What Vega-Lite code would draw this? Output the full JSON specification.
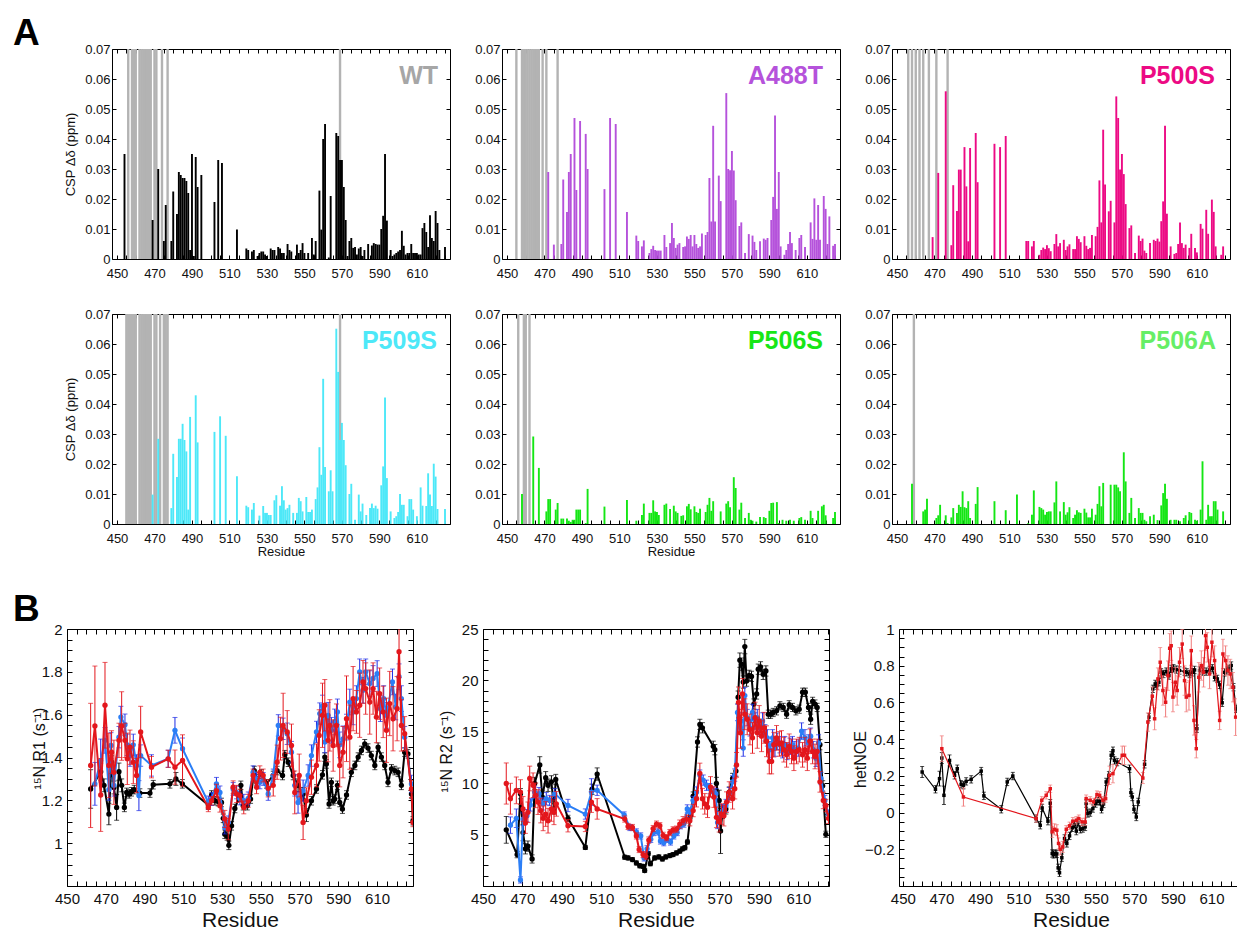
{
"$schema":"https://vega.github.io/schema/vega-lite/v6.json",
"padding":{"left":13,"top":15,"right":0,"bottom":0},
"background":"white",
"datasets":{
"wt":[{"r":454,"v":0.035},{"r":469,"v":0.013},{"r":472,"v":0.03},{"r":475,"v":0.006},{"r":476,"v":0.018},{"r":479,"v":0.006},{"r":480,"v":0.0225},{"r":482,"v":0.015},{"r":483,"v":0.029},{"r":484,"v":0.028},{"r":485,"v":0.027},{"r":486,"v":0.027},{"r":487,"v":0.026},{"r":488,"v":0.022},{"r":489,"v":0.003},{"r":490,"v":0.035},{"r":491,"v":0.001},{"r":492,"v":0.034},{"r":493,"v":0.024},{"r":495,"v":0.028},{"r":502,"v":0.019},{"r":504,"v":0.033},{"r":506,"v":0.032},{"r":514,"v":0.0098},{"r":519,"v":0.0035},{"r":520,"v":0.003},{"r":522,"v":0.0025},{"r":523,"v":0.003},{"r":525,"v":0.001},{"r":526,"v":0.002},{"r":527,"v":0.0025},{"r":528,"v":0.0025},{"r":529,"v":0.0015},{"r":530,"v":0.001},{"r":532,"v":0.0035},{"r":533,"v":0.003},{"r":534,"v":0.003},{"r":536,"v":0.004},{"r":537,"v":0.0035},{"r":538,"v":0.002},{"r":539,"v":0.002},{"r":541,"v":0.005},{"r":542,"v":0.003},{"r":543,"v":0.0025},{"r":546,"v":0.0048},{"r":547,"v":0.002},{"r":548,"v":0.003},{"r":549,"v":0.0053},{"r":550,"v":0.002},{"r":552,"v":0.002},{"r":554,"v":0.007},{"r":555,"v":0.0015},{"r":556,"v":0.006},{"r":558,"v":0.0228},{"r":559,"v":0.0098},{"r":560,"v":0.04},{"r":561,"v":0.045},{"r":563,"v":0.0005},{"r":564,"v":0.021},{"r":567,"v":0.042},{"r":568,"v":0.041},{"r":569,"v":0.033},{"r":570,"v":0.033},{"r":571,"v":0.024},{"r":572,"v":0.013},{"r":573,"v":0.001},{"r":574,"v":0.006},{"r":575,"v":0.007},{"r":576,"v":0.0037},{"r":577,"v":0.004},{"r":578,"v":0.0015},{"r":579,"v":0.0035},{"r":580,"v":0.004},{"r":581,"v":0.001},{"r":582,"v":0.003},{"r":584,"v":0.005},{"r":586,"v":0.0045},{"r":587,"v":0.0053},{"r":588,"v":0.005},{"r":589,"v":0.0048},{"r":590,"v":0.0048},{"r":591,"v":0.01},{"r":592,"v":0.0144},{"r":593,"v":0.035},{"r":594,"v":0.0128},{"r":596,"v":0.003},{"r":597,"v":0.001},{"r":598,"v":0.0015},{"r":599,"v":0.002},{"r":600,"v":0.0025},{"r":601,"v":0.003},{"r":602,"v":0.0094},{"r":603,"v":0.0044},{"r":604,"v":0.0015},{"r":605,"v":0.002},{"r":606,"v":0.002},{"r":607,"v":0.005},{"r":608,"v":0.002},{"r":609,"v":0.002},{"r":610,"v":0.002},{"r":611,"v":0.0015},{"r":612,"v":0.0015},{"r":613,"v":0.0103},{"r":614,"v":0.012},{"r":615,"v":0.009},{"r":616,"v":0.004},{"r":617,"v":0.0146},{"r":618,"v":0.007},{"r":619,"v":0.006},{"r":620,"v":0.016},{"r":621,"v":0.012},{"r":622,"v":0.003},{"r":625,"v":0.004}],
"wtg":[{"r":456,"v":0.07},{"r":458,"v":0.07},{"r":459,"v":0.07},{"r":460,"v":0.07},{"r":462,"v":0.07},{"r":463,"v":0.07},{"r":464,"v":0.07},{"r":465,"v":0.07},{"r":466,"v":0.07},{"r":467,"v":0.07},{"r":468,"v":0.07},{"r":470,"v":0.07},{"r":471,"v":0.07},{"r":474,"v":0.07},{"r":477,"v":0.07},{"r":569,"v":0.07}],
"a488":[{"r":472,"v":0.029},{"r":475,"v":0.0048},{"r":479,"v":0.005},{"r":480,"v":0.0265},{"r":482,"v":0.0157},{"r":483,"v":0.029},{"r":484,"v":0.035},{"r":486,"v":0.047},{"r":487,"v":0.023},{"r":489,"v":0.046},{"r":492,"v":0.0417},{"r":493,"v":0.03},{"r":502,"v":0.0233},{"r":505,"v":0.047},{"r":508,"v":0.045},{"r":514,"v":0.0157},{"r":519,"v":0.0078},{"r":520,"v":0.006},{"r":522,"v":0.0042},{"r":523,"v":0.0062},{"r":526,"v":0.002},{"r":527,"v":0.0033},{"r":528,"v":0.0044},{"r":529,"v":0.003},{"r":530,"v":0.0028},{"r":531,"v":0.0028},{"r":532,"v":0.0028},{"r":534,"v":0.008},{"r":535,"v":0.004},{"r":537,"v":0.0053},{"r":538,"v":0.012},{"r":539,"v":0.007},{"r":540,"v":0.0037},{"r":541,"v":0.0048},{"r":542,"v":0.0053},{"r":544,"v":0.004},{"r":545,"v":0.0042},{"r":546,"v":0.0075},{"r":547,"v":0.0067},{"r":548,"v":0.008},{"r":549,"v":0.0042},{"r":550,"v":0.008},{"r":551,"v":0.005},{"r":552,"v":0.0037},{"r":553,"v":0.0042},{"r":554,"v":0.0085},{"r":556,"v":0.008},{"r":557,"v":0.009},{"r":558,"v":0.027},{"r":559,"v":0.0125},{"r":560,"v":0.0444},{"r":561,"v":0.0125},{"r":563,"v":0.0278},{"r":564,"v":0.0193},{"r":567,"v":0.0553},{"r":568,"v":0.03},{"r":569,"v":0.0296},{"r":570,"v":0.036},{"r":571,"v":0.0295},{"r":572,"v":0.0196},{"r":574,"v":0.011},{"r":575,"v":0.0122},{"r":577,"v":0.002},{"r":579,"v":0.0083},{"r":581,"v":0.0078},{"r":582,"v":0.0057},{"r":583,"v":0.003},{"r":585,"v":0.0059},{"r":587,"v":0.0068},{"r":588,"v":0.0064},{"r":589,"v":0.007},{"r":591,"v":0.013},{"r":592,"v":0.0207},{"r":593,"v":0.0478},{"r":594,"v":0.0167},{"r":595,"v":0.029},{"r":596,"v":0.0042},{"r":598,"v":0.0014},{"r":599,"v":0.003},{"r":600,"v":0.005},{"r":601,"v":0.009},{"r":602,"v":0.0053},{"r":604,"v":0.003},{"r":606,"v":0.007},{"r":607,"v":0.008},{"r":609,"v":0.004},{"r":612,"v":0.0122},{"r":613,"v":0.0067},{"r":614,"v":0.0202},{"r":615,"v":0.0064},{"r":616,"v":0.018},{"r":617,"v":0.0064},{"r":619,"v":0.021},{"r":620,"v":0.0167},{"r":621,"v":0.005},{"r":622,"v":0.0142},{"r":624,"v":0.0044},{"r":625,"v":0.005}],
"a488g":[{"r":455,"v":0.07},{"r":458,"v":0.07},{"r":459,"v":0.07},{"r":460,"v":0.07},{"r":461,"v":0.07},{"r":462,"v":0.07},{"r":463,"v":0.07},{"r":464,"v":0.07},{"r":465,"v":0.07},{"r":466,"v":0.07},{"r":467,"v":0.07},{"r":469,"v":0.07},{"r":471,"v":0.07},{"r":477,"v":0.07}],
"p500":[{"r":469,"v":0.0073},{"r":472,"v":0.0287},{"r":476,"v":0.0559},{"r":479,"v":0.0046},{"r":480,"v":0.0246},{"r":482,"v":0.016},{"r":483,"v":0.0298},{"r":484,"v":0.0298},{"r":486,"v":0.0373},{"r":487,"v":0.0242},{"r":488,"v":0.0059},{"r":489,"v":0.037},{"r":492,"v":0.042},{"r":493,"v":0.0256},{"r":502,"v":0.0384},{"r":505,"v":0.0373},{"r":508,"v":0.041},{"r":519,"v":0.006},{"r":520,"v":0.006},{"r":522,"v":0.0042},{"r":523,"v":0.006},{"r":526,"v":0.0014},{"r":527,"v":0.003},{"r":528,"v":0.0038},{"r":529,"v":0.0033},{"r":530,"v":0.0046},{"r":531,"v":0.0036},{"r":532,"v":0.0026},{"r":534,"v":0.005},{"r":535,"v":0.0083},{"r":536,"v":0.0042},{"r":537,"v":0.0053},{"r":539,"v":0.0064},{"r":540,"v":0.003},{"r":541,"v":0.0042},{"r":542,"v":0.0049},{"r":544,"v":0.0033},{"r":545,"v":0.0033},{"r":546,"v":0.0076},{"r":547,"v":0.0067},{"r":548,"v":0.0056},{"r":550,"v":0.0076},{"r":551,"v":0.0044},{"r":552,"v":0.0033},{"r":553,"v":0.0037},{"r":554,"v":0.008},{"r":556,"v":0.0076},{"r":557,"v":0.0107},{"r":558,"v":0.0262},{"r":559,"v":0.0122},{"r":560,"v":0.0431},{"r":561,"v":0.0248},{"r":563,"v":0.0159},{"r":564,"v":0.0194},{"r":566,"v":0.0122},{"r":567,"v":0.0542},{"r":568,"v":0.047},{"r":569,"v":0.0298},{"r":570,"v":0.035},{"r":571,"v":0.0283},{"r":572,"v":0.0183},{"r":574,"v":0.0103},{"r":575,"v":0.0112},{"r":577,"v":0.002},{"r":579,"v":0.0078},{"r":580,"v":0.006},{"r":581,"v":0.0068},{"r":582,"v":0.0028},{"r":583,"v":0.002},{"r":585,"v":0.0053},{"r":587,"v":0.0064},{"r":588,"v":0.006},{"r":589,"v":0.0068},{"r":590,"v":0.0058},{"r":591,"v":0.0126},{"r":592,"v":0.0192},{"r":593,"v":0.0444},{"r":594,"v":0.0151},{"r":596,"v":0.0042},{"r":598,"v":0.0017},{"r":599,"v":0.002},{"r":600,"v":0.005},{"r":601,"v":0.0122},{"r":602,"v":0.0053},{"r":603,"v":0.0037},{"r":604,"v":0.0048},{"r":606,"v":0.0037},{"r":607,"v":0.0084},{"r":609,"v":0.0037},{"r":610,"v":0.0022},{"r":612,"v":0.0117},{"r":613,"v":0.0101},{"r":615,"v":0.0164},{"r":616,"v":0.0084},{"r":618,"v":0.0198},{"r":619,"v":0.0157},{"r":620,"v":0.0042},{"r":623,"v":0.0014},{"r":624,"v":0.0042}],
"p500g":[{"r":456,"v":0.07},{"r":458,"v":0.07},{"r":460,"v":0.07},{"r":462,"v":0.07},{"r":464,"v":0.07},{"r":467,"v":0.07},{"r":471,"v":0.07},{"r":477,"v":0.07}],
"p509":[{"r":469,"v":0.0098},{"r":472,"v":0.0284},{"r":479,"v":0.0053},{"r":480,"v":0.0234},{"r":482,"v":0.0157},{"r":483,"v":0.0284},{"r":484,"v":0.0284},{"r":485,"v":0.0334},{"r":486,"v":0.028},{"r":487,"v":0.0242},{"r":488,"v":0.0048},{"r":489,"v":0.0357},{"r":492,"v":0.0429},{"r":493,"v":0.0272},{"r":502,"v":0.0307},{"r":505,"v":0.0359},{"r":508,"v":0.0294},{"r":514,"v":0.0159},{"r":519,"v":0.0061},{"r":520,"v":0.0056},{"r":522,"v":0.0048},{"r":523,"v":0.007},{"r":526,"v":0.0028},{"r":528,"v":0.006},{"r":529,"v":0.0037},{"r":530,"v":0.0037},{"r":531,"v":0.003},{"r":532,"v":0.003},{"r":534,"v":0.0079},{"r":535,"v":0.0096},{"r":537,"v":0.0061},{"r":538,"v":0.0126},{"r":539,"v":0.0079},{"r":540,"v":0.0048},{"r":541,"v":0.0053},{"r":542,"v":0.0064},{"r":544,"v":0.0037},{"r":546,"v":0.0037},{"r":547,"v":0.0087},{"r":548,"v":0.0076},{"r":549,"v":0.0042},{"r":551,"v":0.009},{"r":552,"v":0.004},{"r":553,"v":0.004},{"r":554,"v":0.0048},{"r":556,"v":0.0083},{"r":557,"v":0.0122},{"r":558,"v":0.0256},{"r":559,"v":0.0164},{"r":560,"v":0.0484},{"r":561,"v":0.019},{"r":563,"v":0.0109},{"r":564,"v":0.0179},{"r":565,"v":0.0109},{"r":567,"v":0.0651},{"r":568,"v":0.0507},{"r":569,"v":0.028},{"r":570,"v":0.0337},{"r":571,"v":0.028},{"r":572,"v":0.0196},{"r":574,"v":0.01},{"r":575,"v":0.0134},{"r":577,"v":0.0014},{"r":579,"v":0.0098},{"r":580,"v":0.0042},{"r":581,"v":0.0068},{"r":583,"v":0.003},{"r":585,"v":0.0053},{"r":586,"v":0.0068},{"r":587,"v":0.0053},{"r":588,"v":0.0061},{"r":589,"v":0.0051},{"r":591,"v":0.0129},{"r":592,"v":0.0192},{"r":593,"v":0.0422},{"r":594,"v":0.0153},{"r":596,"v":0.0042},{"r":598,"v":0.002},{"r":599,"v":0.0026},{"r":600,"v":0.004},{"r":601,"v":0.01},{"r":602,"v":0.0064},{"r":603,"v":0.0064},{"r":605,"v":0.0026},{"r":606,"v":0.0083},{"r":607,"v":0.0083},{"r":608,"v":0.0048},{"r":610,"v":0.0026},{"r":612,"v":0.0122},{"r":613,"v":0.0061},{"r":615,"v":0.006},{"r":616,"v":0.0169},{"r":617,"v":0.0098},{"r":618,"v":0.006},{"r":619,"v":0.0201},{"r":620,"v":0.0158},{"r":621,"v":0.005},{"r":625,"v":0.005}],
"p509g":[{"r":455,"v":0.07},{"r":456,"v":0.07},{"r":457,"v":0.07},{"r":458,"v":0.07},{"r":459,"v":0.07},{"r":460,"v":0.07},{"r":462,"v":0.07},{"r":463,"v":0.07},{"r":464,"v":0.07},{"r":465,"v":0.07},{"r":466,"v":0.07},{"r":467,"v":0.07},{"r":468,"v":0.07},{"r":470,"v":0.07},{"r":471,"v":0.07},{"r":473,"v":0.07},{"r":475,"v":0.07},{"r":476,"v":0.07},{"r":477,"v":0.07},{"r":569,"v":0.07}],
"p506s":[{"r":458,"v":0.01},{"r":464,"v":0.0292},{"r":467,"v":0.0187},{"r":471,"v":0.0042},{"r":472,"v":0.0083},{"r":473,"v":0.0083},{"r":476,"v":0.0048},{"r":477,"v":0.007},{"r":479,"v":0.0018},{"r":480,"v":0.0018},{"r":482,"v":0.0018},{"r":483,"v":0.0011},{"r":484,"v":0.0007},{"r":485,"v":0.0014},{"r":486,"v":0.0014},{"r":487,"v":0.0048},{"r":488,"v":0.0048},{"r":489,"v":0.0048},{"r":492,"v":0.0003},{"r":493,"v":0.0117},{"r":502,"v":0.0058},{"r":514,"v":0.008},{"r":519,"v":0.0011},{"r":522,"v":0.003},{"r":523,"v":0.0068},{"r":526,"v":0.0037},{"r":527,"v":0.0037},{"r":528,"v":0.0079},{"r":529,"v":0.0042},{"r":530,"v":0.004},{"r":531,"v":0.003},{"r":534,"v":0.0064},{"r":535,"v":0.0068},{"r":537,"v":0.005},{"r":539,"v":0.0061},{"r":540,"v":0.0042},{"r":541,"v":0.0037},{"r":543,"v":0.0027},{"r":544,"v":0.0029},{"r":546,"v":0.0059},{"r":547,"v":0.0067},{"r":548,"v":0.0049},{"r":550,"v":0.0059},{"r":551,"v":0.004},{"r":552,"v":0.0037},{"r":553,"v":0.0051},{"r":556,"v":0.004},{"r":557,"v":0.0064},{"r":558,"v":0.0087},{"r":559,"v":0.0044},{"r":560,"v":0.0076},{"r":564,"v":0.0042},{"r":567,"v":0.0068},{"r":568,"v":0.0076},{"r":569,"v":0.0056},{"r":571,"v":0.0156},{"r":572,"v":0.012},{"r":574,"v":0.0048},{"r":575,"v":0.0071},{"r":577,"v":0.002},{"r":579,"v":0.0037},{"r":580,"v":0.0014},{"r":581,"v":0.0011},{"r":583,"v":0.0008},{"r":585,"v":0.0023},{"r":587,"v":0.0023},{"r":588,"v":0.002},{"r":590,"v":0.0044},{"r":591,"v":0.007},{"r":592,"v":0.0071},{"r":594,"v":0.0073},{"r":595,"v":0.0003},{"r":597,"v":0.0014},{"r":599,"v":0.0011},{"r":601,"v":0.0014},{"r":603,"v":0.0011},{"r":606,"v":0.002},{"r":607,"v":0.0023},{"r":609,"v":0.0014},{"r":612,"v":0.0044},{"r":613,"v":0.002},{"r":616,"v":0.0044},{"r":618,"v":0.0059},{"r":619,"v":0.0064},{"r":620,"v":0.0029},{"r":624,"v":0.002},{"r":625,"v":0.004}],
"p506sg":[{"r":456,"v":0.07},{"r":459,"v":0.07},{"r":460,"v":0.07},{"r":462,"v":0.07}],
"p506a":[{"r":458,"v":0.0134},{"r":464,"v":0.0042},{"r":465,"v":0.0048},{"r":466,"v":0.0084},{"r":471,"v":0.002},{"r":472,"v":0.0029},{"r":473,"v":0.0064},{"r":476,"v":0.0029},{"r":477,"v":0.0003},{"r":479,"v":0.0022},{"r":480,"v":0.0053},{"r":482,"v":0.0037},{"r":483,"v":0.0064},{"r":484,"v":0.0057},{"r":485,"v":0.0109},{"r":486,"v":0.0056},{"r":487,"v":0.0053},{"r":488,"v":0.0076},{"r":489,"v":0.002},{"r":492,"v":0.0067},{"r":493,"v":0.0123},{"r":502,"v":0.0076},{"r":508,"v":0.0046},{"r":514,"v":0.0098},{"r":520,"v":0.0003},{"r":522,"v":0.0031},{"r":523,"v":0.0112},{"r":526,"v":0.0057},{"r":527,"v":0.0053},{"r":528,"v":0.0048},{"r":529,"v":0.0031},{"r":530,"v":0.004},{"r":531,"v":0.0042},{"r":532,"v":0.0042},{"r":534,"v":0.0072},{"r":535,"v":0.0142},{"r":537,"v":0.0042},{"r":539,"v":0.0073},{"r":540,"v":0.0031},{"r":541,"v":0.0039},{"r":542,"v":0.0056},{"r":544,"v":0.002},{"r":545,"v":0.0031},{"r":546,"v":0.0046},{"r":547,"v":0.0039},{"r":548,"v":0.0037},{"r":550,"v":0.0051},{"r":551,"v":0.0038},{"r":552,"v":0.0022},{"r":553,"v":0.0022},{"r":554,"v":0.0051},{"r":556,"v":0.0031},{"r":557,"v":0.0067},{"r":558,"v":0.0126},{"r":559,"v":0.0059},{"r":560,"v":0.0137},{"r":564,"v":0.0131},{"r":566,"v":0.0131},{"r":567,"v":0.0131},{"r":568,"v":0.0122},{"r":569,"v":0.0109},{"r":571,"v":0.0239},{"r":572,"v":0.0142},{"r":574,"v":0.0037},{"r":575,"v":0.0087},{"r":577,"v":0.002},{"r":579,"v":0.0053},{"r":580,"v":0.0037},{"r":581,"v":0.0037},{"r":582,"v":0.0014},{"r":583,"v":0.0009},{"r":585,"v":0.0026},{"r":587,"v":0.0031},{"r":589,"v":0.0013},{"r":591,"v":0.0062},{"r":592,"v":0.0103},{"r":593,"v":0.0134},{"r":594,"v":0.0084},{"r":596,"v":0.0014},{"r":598,"v":0.0014},{"r":599,"v":0.0014},{"r":601,"v":0.0009},{"r":603,"v":0.002},{"r":604,"v":0.0029},{"r":606,"v":0.004},{"r":607,"v":0.0037},{"r":609,"v":0.0014},{"r":610,"v":0.0011},{"r":612,"v":0.0048},{"r":613,"v":0.0209},{"r":615,"v":0.0014},{"r":616,"v":0.0064},{"r":617,"v":0.0026},{"r":618,"v":0.0026},{"r":619,"v":0.0076},{"r":620,"v":0.0076},{"r":621,"v":0.0048},{"r":624,"v":0.0042}],
"p506ag":[{"r":459,"v":0.07}],
"r1k":[{"r":462.2,"v":1.253,"e":0.09},{"r":467.4,"v":1.334,"e":0.04},{"r":469.1,"v":1.27,"e":0.03},{"r":471.6,"v":1.136,"e":0.05},{"r":473,"v":1.378,"e":0.03},{"r":474.2,"v":1.26,"e":0.03},{"r":475.6,"v":1.167,"e":0.06},{"r":476.8,"v":1.334,"e":0.04},{"r":478.2,"v":1.27,"e":0.03},{"r":479.6,"v":1.167,"e":0.02},{"r":480.8,"v":1.237,"e":0.02},{"r":482.1,"v":1.23,"e":0.02},{"r":483.3,"v":1.24,"e":0.02},{"r":484.7,"v":1.25,"e":0.02},{"r":487.6,"v":1.234,"e":0.02},{"r":492.8,"v":1.234,"e":0.02},{"r":494.5,"v":1.273,"e":0.02},{"r":503.1,"v":1.277,"e":0.02},{"r":506.2,"v":1.3,"e":0.03},{"r":509.5,"v":1.277,"e":0.02},{"r":522.9,"v":1.178,"e":0.02},{"r":524.6,"v":1.225,"e":0.02},{"r":526.3,"v":1.198,"e":0.02},{"r":528,"v":1.194,"e":0.02},{"r":529.7,"v":1.19,"e":0.02},{"r":530.6,"v":1.116,"e":0.02},{"r":531.4,"v":1.042,"e":0.02},{"r":532.6,"v":1.034,"e":0.02},{"r":533.5,"v":0.99,"e":0.02},{"r":534.9,"v":1.081,"e":0.02},{"r":536.6,"v":1.162,"e":0.02},{"r":538.8,"v":1.214,"e":0.02},{"r":539.7,"v":1.27,"e":0.02},{"r":540.9,"v":1.175,"e":0.02},{"r":543,"v":1.175,"e":0.02},{"r":544.7,"v":1.206,"e":0.02},{"r":546.6,"v":1.339,"e":0.02},{"r":547.8,"v":1.3,"e":0.02},{"r":550.3,"v":1.323,"e":0.02},{"r":552.9,"v":1.277,"e":0.02},{"r":556.4,"v":1.316,"e":0.02},{"r":558.4,"v":1.339,"e":0.02},{"r":561.2,"v":1.316,"e":0.02},{"r":562.4,"v":1.413,"e":0.02},{"r":564.1,"v":1.378,"e":0.02},{"r":566.7,"v":1.316,"e":0.02},{"r":569.2,"v":1.27,"e":0.03},{"r":571.8,"v":1.23,"e":0.03},{"r":573.5,"v":1.131,"e":0.03},{"r":576.1,"v":1.198,"e":0.02},{"r":578.7,"v":1.253,"e":0.02},{"r":581.8,"v":1.319,"e":0.02},{"r":583,"v":1.402,"e":0.02},{"r":583.8,"v":1.37,"e":0.02},{"r":585.2,"v":1.183,"e":0.02},{"r":586.4,"v":1.284,"e":0.02},{"r":587.3,"v":1.198,"e":0.02},{"r":588.1,"v":1.206,"e":0.02},{"r":589.5,"v":1.27,"e":0.02},{"r":590.7,"v":1.19,"e":0.02},{"r":592.1,"v":1.159,"e":0.02},{"r":594.2,"v":1.225,"e":0.02},{"r":596.7,"v":1.331,"e":0.02},{"r":598.5,"v":1.363,"e":0.02},{"r":600.2,"v":1.402,"e":0.02},{"r":601.9,"v":1.433,"e":0.02},{"r":603.6,"v":1.464,"e":0.02},{"r":605.3,"v":1.444,"e":0.02},{"r":607,"v":1.409,"e":0.02},{"r":608.8,"v":1.363,"e":0.02},{"r":610.5,"v":1.448,"e":0.02},{"r":612.2,"v":1.402,"e":0.02},{"r":613.9,"v":1.363,"e":0.02},{"r":615.6,"v":1.284,"e":0.02},{"r":617.4,"v":1.347,"e":0.02},{"r":619.1,"v":1.339,"e":0.02},{"r":620.8,"v":1.331,"e":0.02},{"r":622.5,"v":1.27,"e":0.02},{"r":624.2,"v":1.425,"e":0.02},{"r":625.9,"v":1.417,"e":0.02},{"r":627.7,"v":1.23,"e":0.02},{"r":628.5,"v":1.105,"e":0.02}],
"r1b":[{"r":464.4,"v":1.277,"e":0.1},{"r":467.4,"v":1.386,"e":0.1},{"r":469.6,"v":1.48,"e":0.06},{"r":471.6,"v":1.25,"e":0.05},{"r":472.7,"v":1.456,"e":0.06},{"r":474.2,"v":1.27,"e":0.05},{"r":476.8,"v":1.495,"e":0.05},{"r":477.8,"v":1.589,"e":0.05},{"r":479.9,"v":1.553,"e":0.05},{"r":481.1,"v":1.459,"e":0.05},{"r":482.5,"v":1.409,"e":0.05},{"r":484.2,"v":1.459,"e":0.05},{"r":485.9,"v":1.363,"e":0.05},{"r":487.1,"v":1.222,"e":0.07},{"r":488,"v":1.409,"e":0.05},{"r":493.6,"v":1.363,"e":0.05},{"r":502.2,"v":1.394,"e":0.04},{"r":505.7,"v":1.527,"e":0.06},{"r":509.6,"v":1.441,"e":0.05},{"r":522.9,"v":1.19,"e":0.03},{"r":524.6,"v":1.206,"e":0.03},{"r":527.1,"v":1.277,"e":0.03},{"r":528.9,"v":1.237,"e":0.03},{"r":531.4,"v":1.073,"e":0.03},{"r":533.2,"v":1.097,"e":0.03},{"r":535.7,"v":1.253,"e":0.03},{"r":537.5,"v":1.237,"e":0.03},{"r":539.2,"v":1.209,"e":0.03},{"r":541.2,"v":1.198,"e":0.03},{"r":543.5,"v":1.209,"e":0.03},{"r":546,"v":1.331,"e":0.03},{"r":547.8,"v":1.3,"e":0.03},{"r":549.5,"v":1.284,"e":0.03},{"r":551.2,"v":1.3,"e":0.03},{"r":553.8,"v":1.23,"e":0.03},{"r":556.4,"v":1.316,"e":0.03},{"r":559,"v":1.55,"e":0.05},{"r":561.5,"v":1.534,"e":0.05},{"r":563.6,"v":1.511,"e":0.05},{"r":565.8,"v":1.425,"e":0.05},{"r":567.5,"v":1.27,"e":0.05},{"r":569.2,"v":1.19,"e":0.05},{"r":571.8,"v":1.245,"e":0.05},{"r":574.4,"v":1.316,"e":0.05},{"r":576.1,"v":1.409,"e":0.05},{"r":578.7,"v":1.519,"e":0.05},{"r":580.4,"v":1.605,"e":0.05},{"r":581.8,"v":1.641,"e":0.05},{"r":583,"v":1.472,"e":0.05},{"r":584.7,"v":1.597,"e":0.06},{"r":586.4,"v":1.527,"e":0.06},{"r":588.1,"v":1.566,"e":0.06},{"r":589.5,"v":1.613,"e":0.06},{"r":590.7,"v":1.459,"e":0.06},{"r":592.4,"v":1.487,"e":0.06},{"r":594.2,"v":1.542,"e":0.06},{"r":595.9,"v":1.659,"e":0.06},{"r":597.6,"v":1.613,"e":0.06},{"r":599.3,"v":1.675,"e":0.06},{"r":601,"v":1.8,"e":0.06},{"r":602.7,"v":1.714,"e":0.06},{"r":604.1,"v":1.8,"e":0.06},{"r":606.2,"v":1.745,"e":0.06},{"r":607.9,"v":1.769,"e":0.06},{"r":610,"v":1.792,"e":0.06},{"r":611.7,"v":1.628,"e":0.06},{"r":613.4,"v":1.675,"e":0.06},{"r":614.8,"v":1.597,"e":0.06},{"r":617.9,"v":1.753,"e":0.06},{"r":619.6,"v":1.636,"e":0.06},{"r":621.3,"v":1.777,"e":0.06},{"r":622.5,"v":1.675,"e":0.06},{"r":624.2,"v":1.495,"e":0.05},{"r":627.7,"v":1.277,"e":0.04}],
"r1r":[{"r":462.2,"v":1.363,"e":0.29},{"r":464.4,"v":1.547,"e":0.28},{"r":467.4,"v":1.225,"e":0.17},{"r":469.6,"v":1.644,"e":0.2},{"r":471.6,"v":1.363,"e":0.15},{"r":473,"v":1.425,"e":0.1},{"r":474.2,"v":1.331,"e":0.15},{"r":476.8,"v":1.48,"e":0.08},{"r":478.2,"v":1.547,"e":0.16},{"r":479.9,"v":1.48,"e":0.08},{"r":481.1,"v":1.394,"e":0.12},{"r":482.5,"v":1.448,"e":0.08},{"r":484.2,"v":1.378,"e":0.1},{"r":485.9,"v":1.316,"e":0.08},{"r":488,"v":1.519,"e":0.12},{"r":493.6,"v":1.355,"e":0.05},{"r":502.2,"v":1.394,"e":0.04},{"r":505.7,"v":1.355,"e":0.08},{"r":509.6,"v":1.386,"e":0.12},{"r":522.9,"v":1.167,"e":0.02},{"r":524.6,"v":1.198,"e":0.02},{"r":527.1,"v":1.245,"e":0.03},{"r":528.9,"v":1.175,"e":0.03},{"r":531.4,"v":1.113,"e":0.04},{"r":533.2,"v":1.066,"e":0.05},{"r":535.7,"v":1.261,"e":0.03},{"r":537.5,"v":1.23,"e":0.04},{"r":539.2,"v":1.222,"e":0.03},{"r":541.2,"v":1.167,"e":0.03},{"r":543.5,"v":1.198,"e":0.03},{"r":546,"v":1.316,"e":0.03},{"r":547.8,"v":1.261,"e":0.03},{"r":549.5,"v":1.331,"e":0.03},{"r":551.2,"v":1.316,"e":0.03},{"r":553.8,"v":1.256,"e":0.04},{"r":556.4,"v":1.27,"e":0.05},{"r":558.4,"v":1.378,"e":0.08},{"r":560.1,"v":1.488,"e":0.1},{"r":561.5,"v":1.55,"e":0.15},{"r":563.6,"v":1.519,"e":0.1},{"r":565.8,"v":1.456,"e":0.1},{"r":567.5,"v":1.237,"e":0.1},{"r":569.8,"v":1.316,"e":0.1},{"r":571.8,"v":1.097,"e":0.08},{"r":573.5,"v":1.198,"e":0.06},{"r":576.1,"v":1.308,"e":0.08},{"r":578.7,"v":1.363,"e":0.1},{"r":580.1,"v":1.503,"e":0.12},{"r":581.8,"v":1.597,"e":0.15},{"r":583,"v":1.644,"e":0.12},{"r":584.7,"v":1.48,"e":0.1},{"r":585.6,"v":1.55,"e":0.12},{"r":587.3,"v":1.456,"e":0.12},{"r":589,"v":1.55,"e":0.1},{"r":590.7,"v":1.363,"e":0.1},{"r":592.4,"v":1.425,"e":0.12},{"r":594.2,"v":1.581,"e":0.2},{"r":595.9,"v":1.495,"e":0.15},{"r":597.6,"v":1.675,"e":0.15},{"r":599.3,"v":1.613,"e":0.1},{"r":601,"v":1.644,"e":0.15},{"r":602.7,"v":1.753,"e":0.1},{"r":604.1,"v":1.722,"e":0.12},{"r":606.2,"v":1.659,"e":0.15},{"r":607.9,"v":1.722,"e":0.12},{"r":609.6,"v":1.589,"e":0.12},{"r":611.3,"v":1.698,"e":0.12},{"r":613.1,"v":1.613,"e":0.12},{"r":614.8,"v":1.527,"e":0.15},{"r":616.5,"v":1.652,"e":0.15},{"r":618.2,"v":1.581,"e":0.15},{"r":620.3,"v":1.628,"e":0.15},{"r":621.3,"v":1.894,"e":0.12},{"r":622.5,"v":1.55,"e":0.12},{"r":624.2,"v":1.511,"e":0.08},{"r":627.7,"v":1.253,"e":0.04},{"r":628.5,"v":1.097,"e":0.02}],
"r2k":[{"r":461.8,"v":5.46,"e":1.3},{"r":467.3,"v":3.06,"e":0.3},{"r":469,"v":8.98,"e":0.5},{"r":470.3,"v":5.2,"e":0.8},{"r":471.5,"v":3.62,"e":0.5},{"r":472.8,"v":3.88,"e":0.5},{"r":474.9,"v":2.63,"e":0.4},{"r":476.2,"v":9.97,"e":0.6},{"r":478.8,"v":11.78,"e":0.8},{"r":480.1,"v":8.65,"e":0.6},{"r":481.8,"v":10.53,"e":0.6},{"r":483,"v":9.8,"e":0.6},{"r":484.7,"v":10.13,"e":0.6},{"r":486,"v":7.5,"e":0.5},{"r":486.9,"v":10.36,"e":0.5},{"r":493.1,"v":6.58,"e":0.3},{"r":501.9,"v":3.75,"e":0.2},{"r":505.3,"v":9.41,"e":0.5},{"r":507.9,"v":10.89,"e":0.6},{"r":521.9,"v":2.8,"e":0.2},{"r":523.6,"v":2.73,"e":0.2},{"r":525.8,"v":2.57,"e":0.2},{"r":527.8,"v":2.24,"e":0.2},{"r":529.5,"v":1.97,"e":0.2},{"r":531.2,"v":1.9,"e":0.2},{"r":532,"v":1.51,"e":0.2},{"r":533.8,"v":3.16,"e":0.2},{"r":534.9,"v":2.17,"e":0.2},{"r":537.1,"v":2.73,"e":0.2},{"r":539.2,"v":2.83,"e":0.2},{"r":541,"v":2.63,"e":0.2},{"r":542.7,"v":2.83,"e":0.2},{"r":544.8,"v":2.96,"e":0.2},{"r":546.4,"v":3.06,"e":0.2},{"r":548.1,"v":3.22,"e":0.2},{"r":549.8,"v":3.39,"e":0.2},{"r":551.2,"v":3.62,"e":0.2},{"r":552.4,"v":3.72,"e":0.2},{"r":553.7,"v":4.28,"e":0.2},{"r":555.2,"v":6.84,"e":0.3},{"r":556.6,"v":8.75,"e":0.4},{"r":558.8,"v":14.01,"e":0.5},{"r":560,"v":15.72,"e":0.5},{"r":561.3,"v":15.39,"e":0.5},{"r":566.8,"v":13.59,"e":0.5},{"r":567.6,"v":13.26,"e":0.5},{"r":568.4,"v":9.97,"e":0.6},{"r":569.8,"v":8.32,"e":1.0},{"r":570.5,"v":5.36,"e":2.2},{"r":571.5,"v":7.17,"e":0.6},{"r":573.2,"v":7.5,"e":0.5},{"r":574.9,"v":9.14,"e":0.5},{"r":576.6,"v":10.46,"e":0.5},{"r":578.3,"v":11.18,"e":0.5},{"r":579.4,"v":18.36,"e":0.6},{"r":580.3,"v":21.97,"e":0.7},{"r":581.1,"v":21.58,"e":0.6},{"r":582,"v":19.84,"e":0.6},{"r":582.8,"v":23.29,"e":0.7},{"r":583.7,"v":19.93,"e":0.5},{"r":585,"v":20.49,"e":0.5},{"r":586.2,"v":20.39,"e":0.5},{"r":587.4,"v":17.7,"e":0.5},{"r":588.8,"v":18.68,"e":0.5},{"r":589.6,"v":21.09,"e":0.5},{"r":590.8,"v":21.32,"e":0.5},{"r":592.1,"v":20.59,"e":0.5},{"r":593.5,"v":20.92,"e":0.5},{"r":594.7,"v":16.71,"e":0.4},{"r":595.9,"v":16.71,"e":0.4},{"r":597.2,"v":16.88,"e":0.4},{"r":598.9,"v":17.04,"e":0.4},{"r":600.6,"v":17.53,"e":0.4},{"r":602.3,"v":17.37,"e":0.4},{"r":604,"v":16.71,"e":0.4},{"r":605.3,"v":17.63,"e":0.4},{"r":607,"v":17.37,"e":0.4},{"r":608.7,"v":17.04,"e":0.4},{"r":610.4,"v":17.2,"e":0.4},{"r":612.1,"v":18.85,"e":0.4},{"r":613.5,"v":18.85,"e":0.4},{"r":615.1,"v":17.37,"e":0.4},{"r":616.2,"v":16.22,"e":0.5},{"r":617.2,"v":17.96,"e":0.4},{"r":618.4,"v":17.7,"e":0.4},{"r":619.5,"v":17.37,"e":0.4},{"r":620.9,"v":13.75,"e":0.5},{"r":622.3,"v":9.74,"e":0.5},{"r":623.9,"v":5.03,"e":0.3}],
"r2b":[{"r":463.9,"v":5.92,"e":0.8},{"r":466.9,"v":6.58,"e":0.9},{"r":469,"v":0.59,"e":0.3},{"r":470.3,"v":6.51,"e":0.6},{"r":472.3,"v":6.84,"e":0.6},{"r":474,"v":7.89,"e":0.6},{"r":476.2,"v":9.14,"e":0.6},{"r":478.4,"v":8.98,"e":0.6},{"r":480.5,"v":7.99,"e":0.6},{"r":482.1,"v":8.49,"e":0.6},{"r":483.8,"v":8.32,"e":0.5},{"r":486.4,"v":8.98,"e":0.5},{"r":493.1,"v":7.83,"e":0.6},{"r":501.9,"v":7.0,"e":0.5},{"r":505,"v":9.14,"e":1.3},{"r":507.9,"v":9.31,"e":0.5},{"r":521.6,"v":6.91,"e":0.3},{"r":524.5,"v":5.69,"e":0.3},{"r":527.8,"v":5.26,"e":0.3},{"r":530,"v":4.87,"e":0.3},{"r":531.7,"v":2.73,"e":0.3},{"r":533.2,"v":3.62,"e":0.3},{"r":535.1,"v":4.54,"e":0.3},{"r":536.6,"v":5.2,"e":0.3},{"r":538.8,"v":5.26,"e":0.3},{"r":540,"v":4.38,"e":0.3},{"r":541.7,"v":4.21,"e":0.3},{"r":543.4,"v":4.54,"e":0.3},{"r":545.1,"v":4.28,"e":0.3},{"r":546.8,"v":4.87,"e":0.3},{"r":548.5,"v":5.2,"e":0.3},{"r":550.2,"v":5.86,"e":0.3},{"r":551.9,"v":6.02,"e":0.3},{"r":553.6,"v":7.5,"e":0.4},{"r":554.9,"v":7.17,"e":0.4},{"r":556.6,"v":8.32,"e":0.4},{"r":558.3,"v":9.14,"e":0.5},{"r":560,"v":10.79,"e":0.5},{"r":561.7,"v":10.3,"e":0.5},{"r":563.4,"v":9.8,"e":0.5},{"r":565.1,"v":9.47,"e":0.5},{"r":566.8,"v":9.14,"e":0.5},{"r":568.1,"v":8.98,"e":0.5},{"r":569,"v":6.18,"e":0.6},{"r":570.1,"v":6.68,"e":0.6},{"r":571.5,"v":7.34,"e":0.6},{"r":573.2,"v":7.83,"e":0.6},{"r":574.9,"v":8.98,"e":0.6},{"r":576.6,"v":10.13,"e":0.6},{"r":577.7,"v":10.79,"e":0.6},{"r":579.1,"v":16.88,"e":0.8},{"r":579.9,"v":15.56,"e":0.8},{"r":581.1,"v":16.05,"e":0.8},{"r":582,"v":13.42,"e":0.8},{"r":582.8,"v":18.52,"e":0.8},{"r":584,"v":16.38,"e":0.8},{"r":585.4,"v":15.39,"e":0.8},{"r":586.7,"v":16.88,"e":0.8},{"r":588,"v":16.05,"e":0.8},{"r":589.1,"v":16.38,"e":0.8},{"r":590.4,"v":15.39,"e":0.8},{"r":591.8,"v":16.05,"e":0.8},{"r":593,"v":14.9,"e":0.8},{"r":594.2,"v":14.41,"e":0.8},{"r":595.5,"v":13.26,"e":0.8},{"r":596.9,"v":14.41,"e":0.8},{"r":598.1,"v":13.42,"e":0.8},{"r":599.2,"v":14.08,"e":0.8},{"r":600.6,"v":13.75,"e":0.8},{"r":601.9,"v":13.26,"e":0.8},{"r":603.1,"v":13.75,"e":0.8},{"r":604.3,"v":13.09,"e":0.8},{"r":605.7,"v":13.59,"e":0.8},{"r":607,"v":13.75,"e":0.8},{"r":608.2,"v":13.26,"e":0.8},{"r":609.9,"v":13.42,"e":0.8},{"r":611.6,"v":15.07,"e":0.8},{"r":613.3,"v":14.41,"e":0.8},{"r":615,"v":13.91,"e":0.8},{"r":616.2,"v":14.57,"e":0.8},{"r":617.5,"v":13.26,"e":0.8},{"r":618.9,"v":12.43,"e":0.8},{"r":620.2,"v":13.91,"e":0.8},{"r":621.4,"v":10.46,"e":0.6},{"r":623.4,"v":8.32,"e":0.5},{"r":625.1,"v":7.0,"e":0.4}],
"r2r":[{"r":461.8,"v":9.97,"e":2.0},{"r":463.9,"v":8.49,"e":1.5},{"r":466.9,"v":9.31,"e":1.3},{"r":469,"v":9.14,"e":1.2},{"r":470.3,"v":7.5,"e":1.2},{"r":471.5,"v":6.12,"e":1.0},{"r":472.8,"v":7.17,"e":1.0},{"r":473.7,"v":10.46,"e":1.2},{"r":475.4,"v":9.8,"e":1.2},{"r":476.7,"v":8.82,"e":1.2},{"r":477.9,"v":8.16,"e":1.2},{"r":479.3,"v":7.34,"e":1.2},{"r":480.5,"v":6.58,"e":1.2},{"r":481.8,"v":7.0,"e":1.2},{"r":483,"v":6.35,"e":1.2},{"r":484.7,"v":7.5,"e":1.2},{"r":486,"v":7.17,"e":1.2},{"r":487.2,"v":7.99,"e":1.2},{"r":493.1,"v":5.86,"e":0.6},{"r":501.9,"v":5.79,"e":0.5},{"r":505,"v":8.16,"e":1.0},{"r":507.9,"v":7.5,"e":1.0},{"r":521.9,"v":6.51,"e":0.3},{"r":523.6,"v":5.79,"e":0.3},{"r":525.8,"v":5.69,"e":0.3},{"r":527.8,"v":4.87,"e":0.3},{"r":529.2,"v":3.55,"e":0.3},{"r":531.2,"v":3.06,"e":0.3},{"r":532.6,"v":2.89,"e":0.3},{"r":534.1,"v":4.47,"e":0.3},{"r":536.3,"v":5.59,"e":0.3},{"r":538,"v":6.02,"e":0.3},{"r":539.7,"v":5.86,"e":0.3},{"r":541.4,"v":4.93,"e":0.3},{"r":543.1,"v":4.7,"e":0.3},{"r":544.8,"v":5.2,"e":0.3},{"r":546.4,"v":5.46,"e":0.3},{"r":548.1,"v":5.53,"e":0.3},{"r":549.8,"v":6.02,"e":0.4},{"r":551.5,"v":6.35,"e":0.4},{"r":553.2,"v":6.51,"e":0.4},{"r":554.9,"v":6.35,"e":0.5},{"r":556.6,"v":7.34,"e":0.6},{"r":558.3,"v":8.49,"e":0.8},{"r":560,"v":10.95,"e":1.0},{"r":561.3,"v":8.49,"e":1.0},{"r":562.5,"v":7.99,"e":1.0},{"r":563.9,"v":7.66,"e":1.0},{"r":565.4,"v":9.64,"e":1.0},{"r":567.1,"v":8.65,"e":1.0},{"r":568.4,"v":6.68,"e":1.0},{"r":569.8,"v":6.25,"e":1.0},{"r":571,"v":7.0,"e":1.0},{"r":572.2,"v":6.84,"e":1.0},{"r":573.5,"v":8.16,"e":1.0},{"r":574.9,"v":9.14,"e":1.0},{"r":576.6,"v":8.49,"e":1.0},{"r":577.7,"v":9.47,"e":1.0},{"r":578.6,"v":11.78,"e":1.2},{"r":579.6,"v":17.86,"e":1.5},{"r":580.6,"v":14.9,"e":1.5},{"r":581.6,"v":18.68,"e":1.5},{"r":582.8,"v":16.71,"e":1.5},{"r":584,"v":16.22,"e":1.5},{"r":585.4,"v":15.23,"e":1.5},{"r":586.7,"v":14.41,"e":1.5},{"r":588,"v":16.38,"e":1.5},{"r":589.1,"v":14.9,"e":1.5},{"r":590.1,"v":16.05,"e":1.5},{"r":591.3,"v":14.57,"e":1.5},{"r":592.5,"v":15.39,"e":1.5},{"r":593.8,"v":14.08,"e":1.5},{"r":595.2,"v":12.11,"e":1.2},{"r":596.4,"v":12.11,"e":1.2},{"r":597.5,"v":13.75,"e":1.2},{"r":598.9,"v":14.41,"e":1.2},{"r":600.3,"v":13.82,"e":1.2},{"r":601.4,"v":13.91,"e":1.2},{"r":602.6,"v":13.26,"e":1.2},{"r":604,"v":12.76,"e":1.2},{"r":605.3,"v":13.59,"e":1.2},{"r":606.5,"v":13.09,"e":1.2},{"r":607.7,"v":12.43,"e":1.2},{"r":609,"v":13.09,"e":1.2},{"r":610.4,"v":13.26,"e":1.2},{"r":612.1,"v":12.76,"e":1.2},{"r":613.3,"v":13.26,"e":1.2},{"r":614.5,"v":12.43,"e":1.2},{"r":615.8,"v":14.08,"e":1.2},{"r":617.2,"v":13.09,"e":1.2},{"r":618.4,"v":12.6,"e":1.2},{"r":619.5,"v":13.09,"e":1.2},{"r":620.9,"v":10.13,"e":1.0},{"r":622.6,"v":8.32,"e":0.8},{"r":623.9,"v":7.83,"e":0.6},{"r":625.2,"v":6.58,"e":0.5}],
"nk":[{"r":460,"v":0.221,"e":0.03},{"r":466.9,"v":0.127,"e":0.02},{"r":469,"v":0.185,"e":0.04},{"r":470.2,"v":0.297,"e":0.03},{"r":471.3,"v":0.094,"e":0.05},{"r":474.2,"v":0.284,"e":0.03},{"r":476.8,"v":0.203,"e":0.02},{"r":478.2,"v":0.239,"e":0.02},{"r":480.2,"v":0.154,"e":0.02},{"r":481.4,"v":0.149,"e":0.02},{"r":482.8,"v":0.17,"e":0.02},{"r":485.4,"v":0.181,"e":0.02},{"r":490.6,"v":0.226,"e":0.02},{"r":492,"v":0.091,"e":0.02},{"r":501,"v":0.018,"e":0.02},{"r":504.1,"v":0.167,"e":0.02},{"r":507,"v":0.199,"e":0.02},{"r":519.1,"v":-0.033,"e":0.02},{"r":521.2,"v":-0.069,"e":0.02},{"r":522.2,"v":0.025,"e":0.02},{"r":525.2,"v":-0.047,"e":0.02},{"r":526.4,"v":0.051,"e":0.02},{"r":527.4,"v":-0.223,"e":0.02},{"r":528.1,"v":-0.228,"e":0.02},{"r":529,"v":-0.223,"e":0.02},{"r":529.8,"v":-0.225,"e":0.02},{"r":530.5,"v":-0.301,"e":0.02},{"r":531.2,"v":-0.328,"e":0.02},{"r":532.4,"v":-0.246,"e":0.02},{"r":533.8,"v":-0.141,"e":0.02},{"r":535,"v":-0.168,"e":0.02},{"r":536.4,"v":-0.127,"e":0.02},{"r":537.8,"v":-0.083,"e":0.02},{"r":539,"v":-0.065,"e":0.02},{"r":539.9,"v":-0.101,"e":0.02},{"r":540.7,"v":-0.054,"e":0.02},{"r":542,"v":-0.091,"e":0.02},{"r":543.3,"v":-0.087,"e":0.02},{"r":544.5,"v":-0.078,"e":0.02},{"r":545,"v":0.049,"e":0.02},{"r":545.9,"v":-0.005,"e":0.02},{"r":547.1,"v":0.0,"e":0.02},{"r":548.5,"v":0.022,"e":0.02},{"r":549.9,"v":0.049,"e":0.02},{"r":551.1,"v":0.062,"e":0.02},{"r":552,"v":0.062,"e":0.02},{"r":553,"v":0.018,"e":0.02},{"r":554,"v":0.047,"e":0.02},{"r":555.4,"v":0.167,"e":0.02},{"r":556.8,"v":0.203,"e":0.02},{"r":558,"v":0.312,"e":0.02},{"r":558.9,"v":0.337,"e":0.02},{"r":559.7,"v":0.284,"e":0.02},{"r":561.1,"v":0.275,"e":0.02},{"r":567.5,"v":0.239,"e":0.02},{"r":568.2,"v":0.109,"e":0.02},{"r":568.9,"v":0.085,"e":0.02},{"r":569.8,"v":0.018,"e":0.02},{"r":571,"v":-0.024,"e":0.02},{"r":572,"v":0.058,"e":0.02},{"r":575.3,"v":0.263,"e":0.02},{"r":577.5,"v":0.52,"e":0.02},{"r":579.6,"v":0.674,"e":0.02},{"r":580.8,"v":0.701,"e":0.02},{"r":581.7,"v":0.692,"e":0.02},{"r":582.7,"v":0.71,"e":0.02},{"r":583.9,"v":0.764,"e":0.02},{"r":585.1,"v":0.755,"e":0.02},{"r":586.5,"v":0.768,"e":0.02},{"r":587.9,"v":0.746,"e":0.02},{"r":589.1,"v":0.783,"e":0.02},{"r":590.3,"v":0.786,"e":0.02},{"r":591.7,"v":0.779,"e":0.02},{"r":593.4,"v":0.774,"e":0.02},{"r":596,"v":0.768,"e":0.02},{"r":597.2,"v":0.764,"e":0.02},{"r":598.6,"v":0.755,"e":0.02},{"r":600,"v":0.764,"e":0.02},{"r":601.2,"v":0.777,"e":0.02},{"r":602.4,"v":0.457,"e":0.02},{"r":603.8,"v":0.774,"e":0.02},{"r":605.5,"v":0.768,"e":0.02},{"r":607.2,"v":0.768,"e":0.02},{"r":609,"v":0.777,"e":0.02},{"r":610.4,"v":0.786,"e":0.02},{"r":611.6,"v":0.737,"e":0.02},{"r":613,"v":0.728,"e":0.02},{"r":614.2,"v":0.696,"e":0.02},{"r":615.5,"v":0.598,"e":0.02},{"r":616.8,"v":0.764,"e":0.02},{"r":618,"v":0.774,"e":0.02},{"r":619,"v":0.783,"e":0.02},{"r":620.2,"v":0.801,"e":0.02},{"r":621.4,"v":0.683,"e":0.02},{"r":622.8,"v":0.565,"e":0.02}],
"nr":[{"r":470.2,"v":0.348,"e":0.07},{"r":481.4,"v":0.085,"e":0.05},{"r":519.1,"v":-0.033,"e":0.02},{"r":522,"v":0.067,"e":0.02},{"r":524.3,"v":0.094,"e":0.02},{"r":526.4,"v":0.13,"e":0.02},{"r":527.4,"v":-0.105,"e":0.03},{"r":528.6,"v":-0.091,"e":0.03},{"r":529.8,"v":-0.096,"e":0.03},{"r":530.7,"v":-0.168,"e":0.03},{"r":531.6,"v":-0.201,"e":0.03},{"r":532.9,"v":-0.187,"e":0.03},{"r":534.7,"v":-0.091,"e":0.02},{"r":536.4,"v":-0.072,"e":0.02},{"r":538.1,"v":-0.047,"e":0.02},{"r":539.9,"v":-0.042,"e":0.02},{"r":541.2,"v":-0.033,"e":0.02},{"r":542.9,"v":-0.051,"e":0.02},{"r":544.5,"v":-0.051,"e":0.02},{"r":545,"v":0.076,"e":0.02},{"r":547.1,"v":0.067,"e":0.02},{"r":548.8,"v":0.058,"e":0.02},{"r":550.6,"v":0.098,"e":0.02},{"r":552,"v":0.094,"e":0.02},{"r":553.7,"v":0.067,"e":0.02},{"r":555.1,"v":0.076,"e":0.02},{"r":557.1,"v":0.203,"e":0.05},{"r":558.9,"v":0.212,"e":0.05},{"r":563.7,"v":0.312,"e":0.05},{"r":564.9,"v":0.312,"e":0.05},{"r":574.4,"v":0.188,"e":0.03},{"r":577,"v":0.493,"e":0.05},{"r":579.3,"v":0.634,"e":0.05},{"r":580.5,"v":0.511,"e":0.06},{"r":582.2,"v":0.728,"e":0.06},{"r":583.4,"v":0.819,"e":0.08},{"r":584.8,"v":0.665,"e":0.08},{"r":586.2,"v":0.601,"e":0.08},{"r":587.4,"v":0.746,"e":0.08},{"r":588.3,"v":0.895,"e":0.08},{"r":589.1,"v":0.909,"e":0.08},{"r":590,"v":0.629,"e":0.08},{"r":591.2,"v":0.71,"e":0.08},{"r":592.2,"v":0.665,"e":0.08},{"r":593.4,"v":0.819,"e":0.08},{"r":594.8,"v":0.918,"e":0.08},{"r":596,"v":0.719,"e":0.08},{"r":596.9,"v":0.629,"e":0.08},{"r":598.3,"v":0.638,"e":0.08},{"r":599.5,"v":0.882,"e":0.08},{"r":600.9,"v":0.502,"e":0.08},{"r":602.1,"v":0.348,"e":0.05},{"r":603.4,"v":0.737,"e":0.08},{"r":604.7,"v":0.801,"e":0.08},{"r":605.9,"v":0.764,"e":0.08},{"r":606.9,"v":0.964,"e":0.08},{"r":607.8,"v":0.9,"e":0.08},{"r":609,"v":0.755,"e":0.08},{"r":610.2,"v":0.928,"e":0.08},{"r":611.6,"v":0.828,"e":0.08},{"r":614.2,"v":0.502,"e":0.05},{"r":615.9,"v":0.864,"e":0.08},{"r":617.3,"v":0.828,"e":0.08},{"r":618.5,"v":0.774,"e":0.08},{"r":619.7,"v":0.755,"e":0.08},{"r":621.1,"v":0.683,"e":0.08},{"r":622.5,"v":0.52,"e":0.1}]
},
"spacing":18,
"vconcat":[
 {"spacing":0,"bounds":"flush","hconcat":[
  {"width":99,"height":240,"view":{"stroke":null},"title":{"text":"A","anchor":"start","frame":"group","fontSize":37,"fontWeight":"bold","color":"#000","baseline":"alphabetic","offset":0,"dx":0,"dy":33},"data":{"values":[]},"mark":{"type":"point","opacity":0},"encoding":{}},
  {"width":338,"height":210,"title":{"text":"WT","anchor":"end","frame":"group","color":"#a6a6a6","fontSize":25,"fontWeight":"bold","baseline":"alphabetic","offset":0,"dx":-12,"dy":66},
   "resolve":{"axis":{"x":"independent","y":"independent"}},
   "encoding":{"x":{"field":"r","type":"quantitative","scale":{"domain":[450,625],"nice":false,"zero":false},"axis":{"values":[450,455,460,465,470,475,480,485,490,495,500,505,510,515,520,525,530,535,540,545,550,555,560,565,570,575,580,585,590,595,600,605,610,615,620,625],"labelExpr":"(datum.value-450)%20==0?datum.label:''","title":null,"labelFontSize":13,"labelPadding":12}},
    "y":{"field":"v","type":"quantitative","scale":{"domain":[0,0.07],"nice":false,"zero":false},"axis":{"values":[0,0.01,0.02,0.03,0.04,0.05,0.06,0.07],"format":".2~f","labelFontSize":13,"labelPadding":6,"title":"CSP Δδ (ppm)","titleFontSize":13,"titleX":-38,"titleY":105,"titleBaseline":"alphabetic"}}},
   "layer":[{"data":{"name":"wtg"},"mark":{"type":"bar","orient":"vertical","color":"#b3b3b3","width":2.4,"clip":true}},
    {"data":{"name":"wt"},"mark":{"type":"bar","orient":"vertical","color":"#000000","width":1.9,"clip":true},"encoding":{"x":{"field":"r","type":"quantitative","scale":{"domain":[450,625],"nice":false,"zero":false},"axis":null},"y":{"field":"v","type":"quantitative","scale":{"domain":[0,0.07],"nice":false,"zero":false},"axis":null}}},
    {"data":{"name":"wtg"},"mark":{"type":"point","opacity":0},"encoding":{"x":{"field":"r","type":"quantitative","scale":{"domain":[450,625],"nice":false,"zero":false},"axis":{"orient":"top","labels":false,"title":null,"values":[450,455,460,465,470,475,480,485,490,495,500,505,510,515,520,525,530,535,540,545,550,555,560,565,570,575,580,585,590,595,600,605,610,615,620,625]}},"y":{"field":"v","type":"quantitative","scale":{"domain":[0,0.07],"nice":false,"zero":false},"axis":{"orient":"right","labels":false,"title":null,"values":[0,0.01,0.02,0.03,0.04,0.05,0.06,0.07]}}}}]},
  {"width":52,"height":210,"view":{"stroke":null},"data":{"values":[]},"mark":{"type":"point","opacity":0},"encoding":{}},
  {"width":338,"height":210,"title":{"text":"A488T","anchor":"end","frame":"group","color":"#b552db","fontSize":25,"fontWeight":"bold","baseline":"alphabetic","offset":0,"dx":-17,"dy":66},
   "resolve":{"axis":{"x":"independent","y":"independent"}},
   "encoding":{"x":{"field":"r","type":"quantitative","scale":{"domain":[450,625],"nice":false,"zero":false},"axis":{"values":[450,455,460,465,470,475,480,485,490,495,500,505,510,515,520,525,530,535,540,545,550,555,560,565,570,575,580,585,590,595,600,605,610,615,620,625],"labelExpr":"(datum.value-450)%20==0?datum.label:''","title":null,"labelFontSize":13,"labelPadding":12}},
    "y":{"field":"v","type":"quantitative","scale":{"domain":[0,0.07],"nice":false,"zero":false},"axis":{"values":[0,0.01,0.02,0.03,0.04,0.05,0.06,0.07],"format":".2~f","labelFontSize":13,"labelPadding":6,"title":null}}},
   "layer":[{"data":{"name":"a488g"},"mark":{"type":"bar","orient":"vertical","color":"#b3b3b3","width":2.4,"clip":true}},
    {"data":{"name":"a488"},"mark":{"type":"bar","orient":"vertical","color":"#b552db","width":1.9,"clip":true},"encoding":{"x":{"field":"r","type":"quantitative","scale":{"domain":[450,625],"nice":false,"zero":false},"axis":null},"y":{"field":"v","type":"quantitative","scale":{"domain":[0,0.07],"nice":false,"zero":false},"axis":null}}},
    {"data":{"name":"a488g"},"mark":{"type":"point","opacity":0},"encoding":{"x":{"field":"r","type":"quantitative","scale":{"domain":[450,625],"nice":false,"zero":false},"axis":{"orient":"top","labels":false,"title":null,"values":[450,455,460,465,470,475,480,485,490,495,500,505,510,515,520,525,530,535,540,545,550,555,560,565,570,575,580,585,590,595,600,605,610,615,620,625]}},"y":{"field":"v","type":"quantitative","scale":{"domain":[0,0.07],"nice":false,"zero":false},"axis":{"orient":"right","labels":false,"title":null,"values":[0,0.01,0.02,0.03,0.04,0.05,0.06,0.07]}}}}]},
  {"width":52,"height":210,"view":{"stroke":null},"data":{"values":[]},"mark":{"type":"point","opacity":0},"encoding":{}},
  {"width":338,"height":210,"title":{"text":"P500S","anchor":"end","frame":"group","color":"#ec0a84","fontSize":25,"fontWeight":"bold","baseline":"alphabetic","offset":0,"dx":-15,"dy":66},
   "resolve":{"axis":{"x":"independent","y":"independent"}},
   "encoding":{"x":{"field":"r","type":"quantitative","scale":{"domain":[450,625],"nice":false,"zero":false},"axis":{"values":[450,455,460,465,470,475,480,485,490,495,500,505,510,515,520,525,530,535,540,545,550,555,560,565,570,575,580,585,590,595,600,605,610,615,620,625],"labelExpr":"(datum.value-450)%20==0?datum.label:''","title":null,"labelFontSize":13,"labelPadding":12}},
    "y":{"field":"v","type":"quantitative","scale":{"domain":[0,0.07],"nice":false,"zero":false},"axis":{"values":[0,0.01,0.02,0.03,0.04,0.05,0.06,0.07],"format":".2~f","labelFontSize":13,"labelPadding":6,"title":null}}},
   "layer":[{"data":{"name":"p500g"},"mark":{"type":"bar","orient":"vertical","color":"#b3b3b3","width":2.4,"clip":true}},
    {"data":{"name":"p500"},"mark":{"type":"bar","orient":"vertical","color":"#ec0a84","width":1.9,"clip":true},"encoding":{"x":{"field":"r","type":"quantitative","scale":{"domain":[450,625],"nice":false,"zero":false},"axis":null},"y":{"field":"v","type":"quantitative","scale":{"domain":[0,0.07],"nice":false,"zero":false},"axis":null}}},
    {"data":{"name":"p500g"},"mark":{"type":"point","opacity":0},"encoding":{"x":{"field":"r","type":"quantitative","scale":{"domain":[450,625],"nice":false,"zero":false},"axis":{"orient":"top","labels":false,"title":null,"values":[450,455,460,465,470,475,480,485,490,495,500,505,510,515,520,525,530,535,540,545,550,555,560,565,570,575,580,585,590,595,600,605,610,615,620,625]}},"y":{"field":"v","type":"quantitative","scale":{"domain":[0,0.07],"nice":false,"zero":false},"axis":{"orient":"right","labels":false,"title":null,"values":[0,0.01,0.02,0.03,0.04,0.05,0.06,0.07]}}}}]}
 ]},
 {"spacing":0,"bounds":"flush","hconcat":[
  {"width":99,"height":259,"view":{"stroke":null},"data":{"values":[]},"mark":{"type":"point","opacity":0},"encoding":{}},
  {"width":338,"height":210,"title":{"text":"P509S","anchor":"end","frame":"group","color":"#4de8f8","fontSize":25,"fontWeight":"bold","baseline":"alphabetic","offset":0,"dx":-13,"dy":66},
   "resolve":{"axis":{"x":"independent","y":"independent"}},
   "encoding":{"x":{"field":"r","type":"quantitative","scale":{"domain":[450,625],"nice":false,"zero":false},"axis":{"values":[450,455,460,465,470,475,480,485,490,495,500,505,510,515,520,525,530,535,540,545,550,555,560,565,570,575,580,585,590,595,600,605,610,615,620,625],"labelExpr":"(datum.value-450)%20==0?datum.label:''","title":"Residue","titleFontSize":13,"titleX":169,"titleY":31,"titleBaseline":"alphabetic","labelFontSize":13,"labelPadding":12}},
    "y":{"field":"v","type":"quantitative","scale":{"domain":[0,0.07],"nice":false,"zero":false},"axis":{"values":[0,0.01,0.02,0.03,0.04,0.05,0.06,0.07],"format":".2~f","labelFontSize":13,"labelPadding":6,"title":"CSP Δδ (ppm)","titleFontSize":13,"titleX":-38,"titleY":105,"titleBaseline":"alphabetic"}}},
   "layer":[{"data":{"name":"p509g"},"mark":{"type":"bar","orient":"vertical","color":"#b3b3b3","width":2.4,"clip":true}},
    {"data":{"name":"p509"},"mark":{"type":"bar","orient":"vertical","color":"#4de8f8","width":1.9,"clip":true},"encoding":{"x":{"field":"r","type":"quantitative","scale":{"domain":[450,625],"nice":false,"zero":false},"axis":null},"y":{"field":"v","type":"quantitative","scale":{"domain":[0,0.07],"nice":false,"zero":false},"axis":null}}},
    {"data":{"name":"p509g"},"mark":{"type":"point","opacity":0},"encoding":{"x":{"field":"r","type":"quantitative","scale":{"domain":[450,625],"nice":false,"zero":false},"axis":{"orient":"top","labels":false,"title":null,"values":[450,455,460,465,470,475,480,485,490,495,500,505,510,515,520,525,530,535,540,545,550,555,560,565,570,575,580,585,590,595,600,605,610,615,620,625]}},"y":{"field":"v","type":"quantitative","scale":{"domain":[0,0.07],"nice":false,"zero":false},"axis":{"orient":"right","labels":false,"title":null,"values":[0,0.01,0.02,0.03,0.04,0.05,0.06,0.07]}}}}]},
  {"width":52,"height":210,"view":{"stroke":null},"data":{"values":[]},"mark":{"type":"point","opacity":0},"encoding":{}},
  {"width":338,"height":210,"title":{"text":"P506S","anchor":"end","frame":"group","color":"#17e617","fontSize":25,"fontWeight":"bold","baseline":"alphabetic","offset":0,"dx":-17,"dy":66},
   "resolve":{"axis":{"x":"independent","y":"independent"}},
   "encoding":{"x":{"field":"r","type":"quantitative","scale":{"domain":[450,625],"nice":false,"zero":false},"axis":{"values":[450,455,460,465,470,475,480,485,490,495,500,505,510,515,520,525,530,535,540,545,550,555,560,565,570,575,580,585,590,595,600,605,610,615,620,625],"labelExpr":"(datum.value-450)%20==0?datum.label:''","title":"Residue","titleFontSize":13,"titleX":169,"titleY":31,"titleBaseline":"alphabetic","labelFontSize":13,"labelPadding":12}},
    "y":{"field":"v","type":"quantitative","scale":{"domain":[0,0.07],"nice":false,"zero":false},"axis":{"values":[0,0.01,0.02,0.03,0.04,0.05,0.06,0.07],"format":".2~f","labelFontSize":13,"labelPadding":6,"title":null}}},
   "layer":[{"data":{"name":"p506sg"},"mark":{"type":"bar","orient":"vertical","color":"#b3b3b3","width":2.4,"clip":true}},
    {"data":{"name":"p506s"},"mark":{"type":"bar","orient":"vertical","color":"#14e614","width":1.9,"clip":true},"encoding":{"x":{"field":"r","type":"quantitative","scale":{"domain":[450,625],"nice":false,"zero":false},"axis":null},"y":{"field":"v","type":"quantitative","scale":{"domain":[0,0.07],"nice":false,"zero":false},"axis":null}}},
    {"data":{"name":"p506sg"},"mark":{"type":"point","opacity":0},"encoding":{"x":{"field":"r","type":"quantitative","scale":{"domain":[450,625],"nice":false,"zero":false},"axis":{"orient":"top","labels":false,"title":null,"values":[450,455,460,465,470,475,480,485,490,495,500,505,510,515,520,525,530,535,540,545,550,555,560,565,570,575,580,585,590,595,600,605,610,615,620,625]}},"y":{"field":"v","type":"quantitative","scale":{"domain":[0,0.07],"nice":false,"zero":false},"axis":{"orient":"right","labels":false,"title":null,"values":[0,0.01,0.02,0.03,0.04,0.05,0.06,0.07]}}}}]},
  {"width":52,"height":210,"view":{"stroke":null},"data":{"values":[]},"mark":{"type":"point","opacity":0},"encoding":{}},
  {"width":338,"height":210,"title":{"text":"P506A","anchor":"end","frame":"group","color":"#66ee66","fontSize":25,"fontWeight":"bold","baseline":"alphabetic","offset":0,"dx":-14,"dy":66},
   "resolve":{"axis":{"x":"independent","y":"independent"}},
   "encoding":{"x":{"field":"r","type":"quantitative","scale":{"domain":[450,625],"nice":false,"zero":false},"axis":{"values":[450,455,460,465,470,475,480,485,490,495,500,505,510,515,520,525,530,535,540,545,550,555,560,565,570,575,580,585,590,595,600,605,610,615,620,625],"labelExpr":"(datum.value-450)%20==0?datum.label:''","title":null,"labelFontSize":13,"labelPadding":12}},
    "y":{"field":"v","type":"quantitative","scale":{"domain":[0,0.07],"nice":false,"zero":false},"axis":{"values":[0,0.01,0.02,0.03,0.04,0.05,0.06,0.07],"format":".2~f","labelFontSize":13,"labelPadding":6,"title":null}}},
   "layer":[{"data":{"name":"p506ag"},"mark":{"type":"bar","orient":"vertical","color":"#b3b3b3","width":2.4,"clip":true}},
    {"data":{"name":"p506a"},"mark":{"type":"bar","orient":"vertical","color":"#14e614","width":1.9,"clip":true},"encoding":{"x":{"field":"r","type":"quantitative","scale":{"domain":[450,625],"nice":false,"zero":false},"axis":null},"y":{"field":"v","type":"quantitative","scale":{"domain":[0,0.07],"nice":false,"zero":false},"axis":null}}},
    {"data":{"name":"p506ag"},"mark":{"type":"point","opacity":0},"encoding":{"x":{"field":"r","type":"quantitative","scale":{"domain":[450,625],"nice":false,"zero":false},"axis":{"orient":"top","labels":false,"title":null,"values":[450,455,460,465,470,475,480,485,490,495,500,505,510,515,520,525,530,535,540,545,550,555,560,565,570,575,580,585,590,595,600,605,610,615,620,625]}},"y":{"field":"v","type":"quantitative","scale":{"domain":[0,0.07],"nice":false,"zero":false},"axis":{"orient":"right","labels":false,"title":null,"values":[0,0.01,0.02,0.03,0.04,0.05,0.06,0.07]}}}}]}
 ]},
 {"spacing":0,"bounds":"flush","hconcat":[
  {"width":54,"height":257,"view":{"stroke":null},"title":{"text":"B","anchor":"start","frame":"group","fontSize":37,"fontWeight":"bold","color":"#000","baseline":"alphabetic","offset":0,"dx":0,"dy":29},"data":{"values":[]},"mark":{"type":"point","opacity":0},"encoding":{}},
  {"width":346,"height":257,
   "resolve":{"axis":{"x":"independent","y":"independent"}},
   "encoding":{"x":{"field":"r","type":"quantitative","scale":{"domain":[450,628.5],"nice":false,"zero":false},"axis":{"values":[450,455,460,465,470,475,480,485,490,495,500,505,510,515,520,525,530,535,540,545,550,555,560,565,570,575,580,585,590,595,600,605,610,615,620,625],"labelExpr":"(datum.value-450)%20==0?datum.label:''","title":"Residue","titleFontSize":21,"titleX":173,"titleY":40,"titleBaseline":"alphabetic","labelFontSize":15,"labelPadding":10,"tickSize":-5}},
    "y":{"field":"v","type":"quantitative","scale":{"domain":[0.8,2],"nice":false,"zero":false},"axis":{"values":[0.8,0.85,0.9,0.95,1,1.05,1.1,1.15,1.2,1.25,1.3,1.35,1.4,1.45,1.5,1.55,1.6,1.65,1.7,1.75,1.8,1.85,1.9,1.95,2],"format":".1~f","labelExpr":"datum.value>0.99&&abs(datum.value*5-round(datum.value*5))<0.01?datum.label:''","labelFontSize":15,"labelPadding":10,"tickSize":-5,"title":"¹⁵N R1 (s⁻¹)","titleFontSize":16,"titleX":-23,"titleY":119,"titleBaseline":"alphabetic"}}},
   "layer":[
    {"data":{"name":"r1k"},"layer":[{"mark":{"type":"errorbar","color":"#000000","ticks":{"size":5,"color":"#000000"},"clip":true},"encoding":{"yError":{"field":"e"}}},{"mark":{"type":"line","color":"#000000","strokeWidth":2,"clip":true}},{"mark":{"type":"circle","color":"#000000","size":28,"opacity":1,"clip":true}}]},
    {"data":{"name":"r1b"},"encoding":{"x":{"field":"r","type":"quantitative","scale":{"domain":[450,628.5],"nice":false,"zero":false},"axis":null},"y":{"field":"v","type":"quantitative","scale":{"domain":[0.8,2],"nice":false,"zero":false},"axis":null}},"layer":[{"mark":{"type":"errorbar","color":"#1d2be6","ticks":{"size":5,"color":"#1d2be6"},"clip":true},"encoding":{"yError":{"field":"e"}}},{"mark":{"type":"line","color":"#2b7ef6","strokeWidth":2,"clip":true}},{"mark":{"type":"circle","color":"#2b7ef6","size":28,"opacity":1,"clip":true}}]},
    {"data":{"name":"r1r"},"encoding":{"x":{"field":"r","type":"quantitative","scale":{"domain":[450,628.5],"nice":false,"zero":false},"axis":null},"y":{"field":"v","type":"quantitative","scale":{"domain":[0.8,2],"nice":false,"zero":false},"axis":null}},"layer":[{"mark":{"type":"errorbar","color":"#e3161c","ticks":{"size":5,"color":"#e3161c"},"clip":true},"encoding":{"yError":{"field":"e"}}},{"mark":{"type":"line","color":"#e3161c","strokeWidth":2,"clip":true}},{"mark":{"type":"circle","color":"#e3161c","size":28,"opacity":1,"clip":true}}]},
    {"data":{"name":"r1k"},"mark":{"type":"point","opacity":0},"encoding":{"x":{"field":"r","type":"quantitative","scale":{"domain":[450,628.5],"nice":false,"zero":false},"axis":{"orient":"top","labels":false,"title":null,"tickSize":-5,"values":[450,455,460,465,470,475,480,485,490,495,500,505,510,515,520,525,530,535,540,545,550,555,560,565,570,575,580,585,590,595,600,605,610,615,620,625]}},"y":{"field":"v","type":"quantitative","scale":{"domain":[0.8,2],"nice":false,"zero":false},"axis":{"orient":"right","labels":false,"title":null,"tickSize":-5,"values":[0.8,0.85,0.9,0.95,1,1.05,1.1,1.15,1.2,1.25,1.3,1.35,1.4,1.45,1.5,1.55,1.6,1.65,1.7,1.75,1.8,1.85,1.9,1.95,2]}}}}
   ]},
  {"width":70,"height":257,"view":{"stroke":null},"data":{"values":[]},"mark":{"type":"point","opacity":0},"encoding":{}},
  {"width":346,"height":257,
   "resolve":{"axis":{"x":"independent","y":"independent"}},
   "encoding":{"x":{"field":"r","type":"quantitative","scale":{"domain":[450,625.5],"nice":false,"zero":false},"axis":{"values":[450,455,460,465,470,475,480,485,490,495,500,505,510,515,520,525,530,535,540,545,550,555,560,565,570,575,580,585,590,595,600,605,610,615,620,625],"labelExpr":"(datum.value-450)%20==0?datum.label:''","title":"Residue","titleFontSize":21,"titleX":173,"titleY":40,"titleBaseline":"alphabetic","labelFontSize":15,"labelPadding":10,"tickSize":-5}},
    "y":{"field":"v","type":"quantitative","scale":{"domain":[0,25],"nice":false,"zero":false},"axis":{"values":[0,1,2,3,4,5,6,7,8,9,10,11,12,13,14,15,16,17,18,19,20,21,22,23,24,25],"labelExpr":"datum.value>0&&datum.value%5==0?datum.label:''","labelFontSize":15,"labelPadding":10,"tickSize":-5,"title":"¹⁵N R2 (s⁻¹)","titleFontSize":16,"titleX":-32,"titleY":122,"titleBaseline":"alphabetic"}}},
   "layer":[
    {"data":{"name":"r2k"},"layer":[{"mark":{"type":"errorbar","color":"#000000","ticks":{"size":5,"color":"#000000"},"clip":true},"encoding":{"yError":{"field":"e"}}},{"mark":{"type":"line","color":"#000000","strokeWidth":2,"clip":true}},{"mark":{"type":"circle","color":"#000000","size":28,"opacity":1,"clip":true}}]},
    {"data":{"name":"r2b"},"encoding":{"x":{"field":"r","type":"quantitative","scale":{"domain":[450,625.5],"nice":false,"zero":false},"axis":null},"y":{"field":"v","type":"quantitative","scale":{"domain":[0,25],"nice":false,"zero":false},"axis":null}},"layer":[{"mark":{"type":"errorbar","color":"#1d2be6","ticks":{"size":5,"color":"#1d2be6"},"clip":true},"encoding":{"yError":{"field":"e"}}},{"mark":{"type":"line","color":"#2b7ef6","strokeWidth":2,"clip":true}},{"mark":{"type":"circle","color":"#2b7ef6","size":28,"opacity":1,"clip":true}}]},
    {"data":{"name":"r2r"},"encoding":{"x":{"field":"r","type":"quantitative","scale":{"domain":[450,625.5],"nice":false,"zero":false},"axis":null},"y":{"field":"v","type":"quantitative","scale":{"domain":[0,25],"nice":false,"zero":false},"axis":null}},"layer":[{"mark":{"type":"errorbar","color":"#e3161c","ticks":{"size":5,"color":"#e3161c"},"clip":true},"encoding":{"yError":{"field":"e"}}},{"mark":{"type":"line","color":"#e3161c","strokeWidth":2,"clip":true}},{"mark":{"type":"circle","color":"#e3161c","size":28,"opacity":1,"clip":true}}]},
    {"data":{"name":"r2k"},"mark":{"type":"point","opacity":0},"encoding":{"x":{"field":"r","type":"quantitative","scale":{"domain":[450,625.5],"nice":false,"zero":false},"axis":{"orient":"top","labels":false,"title":null,"tickSize":-5,"values":[450,455,460,465,470,475,480,485,490,495,500,505,510,515,520,525,530,535,540,545,550,555,560,565,570,575,580,585,590,595,600,605,610,615,620,625]}},"y":{"field":"v","type":"quantitative","scale":{"domain":[0,25],"nice":false,"zero":false},"axis":{"orient":"right","labels":false,"title":null,"tickSize":-5,"values":[0,1,2,3,4,5,6,7,8,9,10,11,12,13,14,15,16,17,18,19,20,21,22,23,24,25]}}}}
   ]},
  {"width":70,"height":257,"view":{"stroke":null},"data":{"values":[]},"mark":{"type":"point","opacity":0},"encoding":{}},
  {"width":338,"height":257,
   "resolve":{"axis":{"x":"independent","y":"independent"}},
   "encoding":{"x":{"field":"r","type":"quantitative","scale":{"domain":[448,623.2],"nice":false,"zero":false},"axis":{"values":[450,455,460,465,470,475,480,485,490,495,500,505,510,515,520,525,530,535,540,545,550,555,560,565,570,575,580,585,590,595,600,605,610,615,620],"labelExpr":"(datum.value-450)%20==0?datum.label:''","title":"Residue","titleFontSize":21,"titleX":172,"titleY":40,"titleBaseline":"alphabetic","labelFontSize":15,"labelPadding":10,"tickSize":-5}},
    "y":{"field":"v","type":"quantitative","scale":{"domain":[-0.4,1],"nice":false,"zero":false},"axis":{"values":[-0.4,-0.35,-0.3,-0.25,-0.2,-0.15,-0.1,-0.05,0,0.05,0.1,0.15,0.2,0.25,0.3,0.35,0.4,0.45,0.5,0.55,0.6,0.65,0.7,0.75,0.8,0.85,0.9,0.95,1],"format":".1~f","labelExpr":"datum.value>-0.3&&abs(datum.value*5-round(datum.value*5))<0.01?datum.label:''","labelFontSize":15,"labelPadding":10,"tickSize":-5,"title":"hetNOE","titleFontSize":16,"titleX":-34,"titleY":130,"titleBaseline":"alphabetic"}}},
   "layer":[
    {"data":{"name":"nk"},"layer":[{"mark":{"type":"errorbar","color":"#000000","ticks":{"size":4,"color":"#000000"},"clip":true},"encoding":{"yError":{"field":"e"}}},{"mark":{"type":"line","color":"#000000","strokeWidth":1.2,"clip":true}},{"mark":{"type":"square","color":"#000000","size":12,"opacity":1,"clip":true}}]},
    {"data":{"name":"nr"},"encoding":{"x":{"field":"r","type":"quantitative","scale":{"domain":[448,623.2],"nice":false,"zero":false},"axis":null},"y":{"field":"v","type":"quantitative","scale":{"domain":[-0.4,1],"nice":false,"zero":false},"axis":null}},"layer":[{"mark":{"type":"errorbar","color":"#f07a7a","ticks":{"size":4,"color":"#f07a7a"},"clip":true},"encoding":{"yError":{"field":"e"}}},{"mark":{"type":"line","color":"#e3161c","strokeWidth":1.2,"clip":true}},{"mark":{"type":"square","color":"#e3161c","size":12,"opacity":1,"clip":true}}]},
    {"data":{"name":"nk"},"mark":{"type":"point","opacity":0},"encoding":{"x":{"field":"r","type":"quantitative","scale":{"domain":[448,623.2],"nice":false,"zero":false},"axis":{"orient":"top","labels":false,"title":null,"tickSize":-5,"values":[450,455,460,465,470,475,480,485,490,495,500,505,510,515,520,525,530,535,540,545,550,555,560,565,570,575,580,585,590,595,600,605,610,615,620]}},"y":{"field":"v","type":"quantitative","scale":{"domain":[-0.4,1],"nice":false,"zero":false},"axis":null}}}
   ]}
 ]}
],
"config":{
 "font":"Liberation Sans",
 "view":{"stroke":"#000000","strokeWidth":1},
 "axis":{"grid":false,"domain":false,"tickColor":"#000000","tickSize":-4,"labelColor":"#111111","titleColor":"#111111","labelFont":"Liberation Sans","titleFont":"Liberation Sans","titleFontWeight":"normal","labelFlush":false,"labelOverlap":false},
 "title":{"font":"Liberation Sans"}
}
}
